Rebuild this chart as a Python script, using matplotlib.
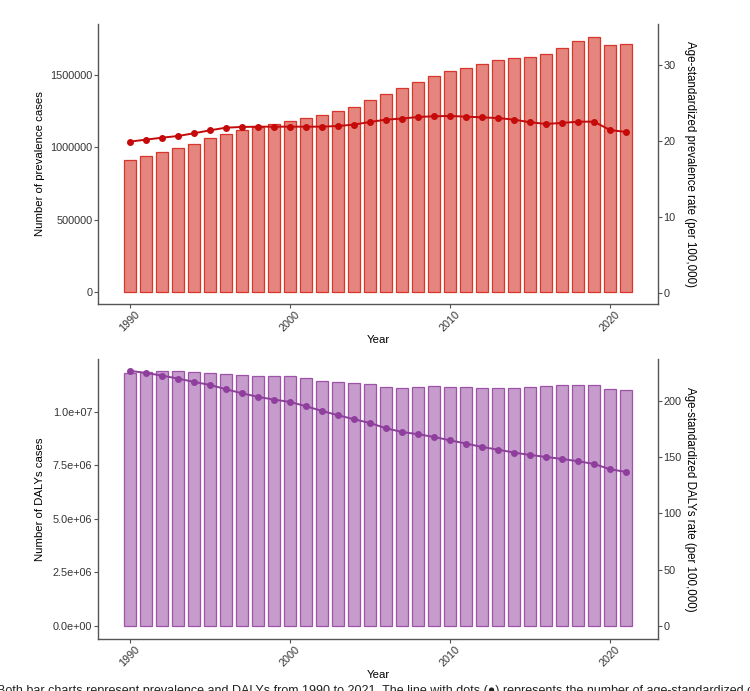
import numpy as np
import matplotlib
matplotlib.use("Agg")
import matplotlib.pyplot as plt

plt.rcParams['font.family'] = ['Liberation Sans', 'DejaVu Sans']

# data
years = list(range(1990, 2022))
prev_cases = [913e3, 941e3, 968e3, 996e3, 1026e3, 1061e3, 1093e3, 1118e3, 1143e3, 1159e3,
              1180e3, 1201e3, 1222e3, 1249e3, 1281e3, 1325e3, 1371e3, 1408e3, 1452e3, 1491e3,
              1525e3, 1551e3, 1578e3, 1604e3, 1617e3, 1627e3, 1643e3, 1689e3, 1732e3, 1762e3,
              1707e3, 1716e3]
prev_rate = [19.9, 20.16, 20.42, 20.64, 21.0, 21.39, 21.74, 21.83, 21.87, 21.87,
             21.87, 21.87, 21.87, 21.96, 22.14, 22.49, 22.8, 22.93, 23.15, 23.24,
             23.28, 23.19, 23.1, 23.0, 22.8, 22.45, 22.23, 22.36, 22.53, 22.53,
             21.43, 21.17]
daly_cases = [1.180e7, 1.187e7, 1.190e7, 1.188e7, 1.185e7, 1.182e7, 1.176e7, 1.170e7, 1.165e7, 1.165e7,
              1.165e7, 1.156e7, 1.145e7, 1.137e7, 1.132e7, 1.128e7, 1.117e7, 1.109e7, 1.114e7, 1.118e7,
              1.117e7, 1.114e7, 1.109e7, 1.109e7, 1.110e7, 1.114e7, 1.120e7, 1.124e7, 1.124e7, 1.126e7,
              1.104e7, 1.101e7]
daly_rate = [226.7, 224.9, 222.5, 219.9, 216.9, 214.2, 210.4, 206.8, 203.6, 201.2,
             199.1, 195.3, 191.1, 187.3, 183.7, 180.4, 175.7, 172.4, 170.4, 168.0,
             165.0, 162.1, 159.1, 156.7, 154.1, 152.0, 150.2, 148.4, 146.4, 144.0,
             139.3, 136.9]

year_ticks = [1990, 2000, 2010, 2020]


def panel(rect, cases, rate, fill, edge, line, ylab_left, ylab_right,
          ylim_l, ylim_r, lticks, lfmt, rticks):
    ax = fig.add_axes(rect)
    ax.bar(years, cases, width=0.8, color=fill, edgecolor=edge, linewidth=0.9)
    ax.set_xlim(1988, 2023)
    ax.set_ylim(*ylim_l)
    ax.set_yticks(lticks)
    ax.set_yticklabels([lfmt(v) for v in lticks])
    ax.set_xticks(year_ticks)
    ax.set_xticklabels([str(y) for y in year_ticks], rotation=45, ha='center')
    ax.set_xlabel("Year", fontsize=8.2, labelpad=1)
    ax.set_ylabel(ylab_left, fontsize=8.2)
    ax.yaxis.set_label_coords(-0.0946, 0.5)
    ax2 = ax.twinx()
    ax2.plot(years, rate, color=line, linewidth=1.4, marker='o', markersize=4)
    ax2.set_ylim(*ylim_r)
    ax2.set_yticks(rticks)
    ax2.set_ylabel(ylab_right, fontsize=8.3, rotation=270)
    ax2.yaxis.label.set_verticalalignment('bottom')
    ax2.yaxis.set_label_coords(1.046, 0.5)
    for a in (ax, ax2):
        a.spines['top'].set_visible(False)
        for s in ('left', 'right', 'bottom'):
            a.spines[s].set_color('#555555')
            a.spines[s].set_linewidth(1.0)
        a.tick_params(labelsize=7.8, length=3, width=0.8, pad=1,
                      color='#555555', labelcolor='#333333')
    ax.spines['right'].set_visible(False)
    ax2.spines['left'].set_visible(False)
    ax2.spines['bottom'].set_visible(False)
    return ax, ax2


fig = plt.figure(figsize=(7.5, 6.91), dpi=100)

panel([0.1307, 0.560, 0.7466, 0.4053], prev_cases, prev_rate,
      '#E4867D', '#D9352A', '#C40A0A',
      "Number of prevalence cases", "Age-standardized prevalence rate (per 100,000)",
      (-83000, 1.852e6), (-1.5, 35.4),
      [0, 500000, 1000000, 1500000], lambda v: f"{int(v)}", [0, 10, 20, 30])

panel([0.1307, 0.0753, 0.7466, 0.4052], daly_cases, daly_rate,
      '#C59CCB', '#9E52AA', '#8E3F9C',
      "Number of DALYs cases", "Age-standardized DALYs rate (per 100,000)",
      (-0.061e7, 1.246e7), (-11.6, 237.3),
      [0, 2.5e6, 5e6, 7.5e6, 1e7], lambda v: f"{v:.1e}", [0, 50, 100, 150, 200])

fig.text(-0.004, 1 - 691 / 691,
         "Both bar charts represent prevalence and DALYs from 1990 to 2021. The line with dots (\u25cf) represents the number of age-standardized cases",
         fontsize=9, va='center', ha='left', color='#222222')

fig.savefig("out.png", dpi=100)
